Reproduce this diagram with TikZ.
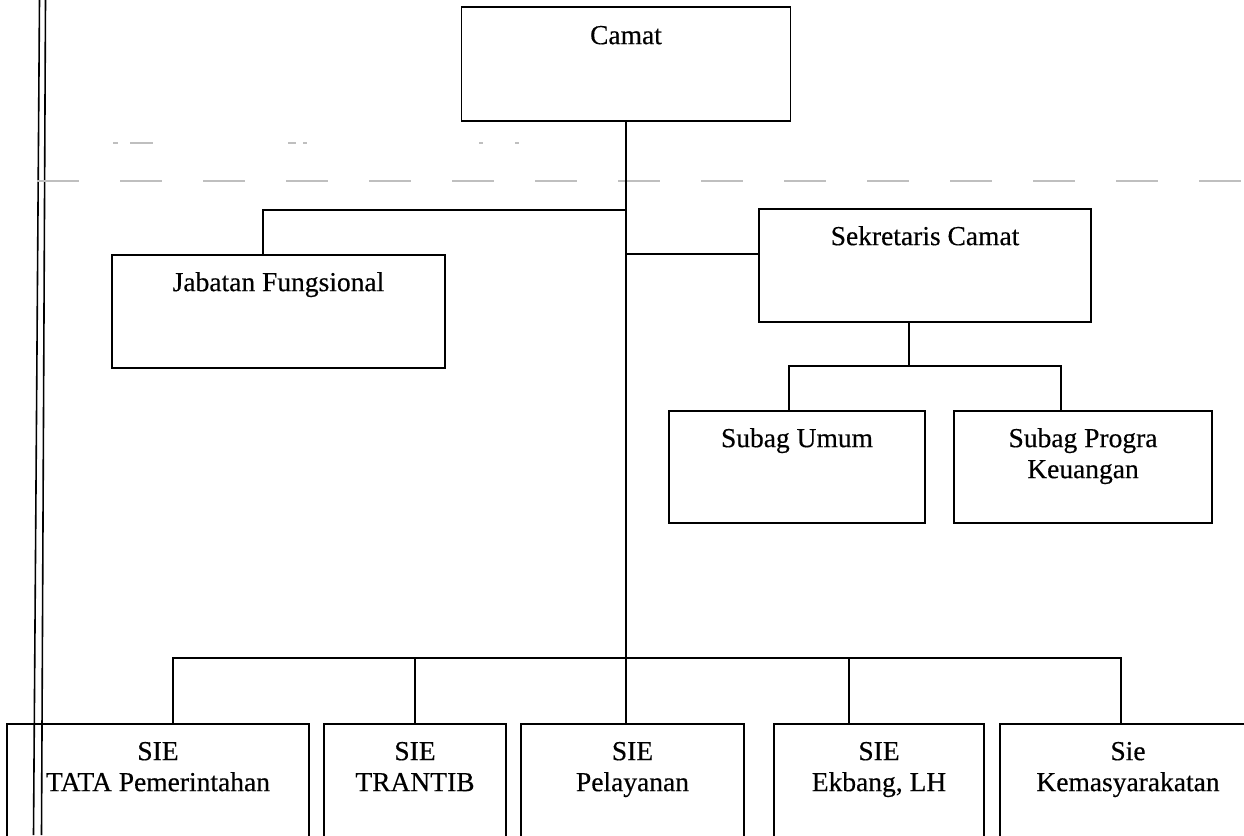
\documentclass[tikz,border=0pt]{standalone}
\usepackage{fontspec}
\setmainfont[FakeBold=0.4]{Liberation Serif}
\begin{document}
\begin{tikzpicture}[x=1pt,y=-1pt,
  box/.style={draw, line width=1.7pt, rectangle, inner sep=0pt},
  ln/.style={line width=1.7pt},
  lbl/.style={anchor=base, inner sep=0pt, font=\fontsize{27.5}{31}\selectfont},
  noise/.style={gray!50, line width=1.2pt}]
\useasboundingbox (0,0) rectangle (1244,835);
\clip (0,0) rectangle (1244,835);
% page edge double line
\draw[line width=1.6pt] (39.5,0) -- (33.5,835);
\draw[line width=1.6pt] (45.5,0) -- (41.5,835);
% scan noise
\draw[noise, dash pattern=on 42pt off 41pt] (37,181) -- (1244,181);
\draw[noise] (113,143) -- (118,143) (130,143) -- (153,143) (288,143) -- (296,143) (303,143) -- (307,143) (479,143) -- (483,143) (515,143) -- (519,143);
% boxes
\node[box, minimum width=329pt, minimum height=114pt] (camat) at (626,64) {};
\node[box, minimum width=333pt, minimum height=113pt] (jab) at (278.5,311.5) {};
\node[box, minimum width=332pt, minimum height=113pt] (sek) at (925,265.5) {};
\node[box, minimum width=256pt, minimum height=112pt] (umum) at (797,467) {};
\node[box, minimum width=258pt, minimum height=112pt] (prog) at (1083,467) {};
\node[box, minimum width=302pt, minimum height=126pt] (tata) at (158,787) {};
\node[box, minimum width=182pt, minimum height=126pt] (tran) at (415,787) {};
\node[box, minimum width=223pt, minimum height=126pt] (pel) at (632.5,787) {};
\node[box, minimum width=210pt, minimum height=126pt] (ekb) at (879,787) {};
\node[box, minimum width=256pt, minimum height=126pt] (kem) at (1128,787) {};
% labels
\node[lbl] (tcamat) at ([yshift=-38pt]camat.north) {Camat};
\node[lbl] (tjab) at ([yshift=-37pt]jab.north) {Jabatan Fungsional};
\node[lbl] (tsek) at ([yshift=-37pt]sek.north) {Sekretaris Camat};
\node[lbl] (tumum) at ([yshift=-37pt]umum.north) {Subag Umum};
\node[lbl] (tprog1) at ([yshift=-37pt]prog.north) {Subag Progra};
\node[lbl] (tprog2) at ([yshift=-68pt]prog.north) {Keuangan};
\node[lbl] (ttata1) at ([yshift=-37pt]tata.north) {SIE};
\node[lbl] (ttata2) at ([yshift=-68pt]tata.north) {TATA Pemerintahan};
\node[lbl] (ttran1) at ([yshift=-37pt]tran.north) {SIE};
\node[lbl] (ttran2) at ([yshift=-68pt]tran.north) {TRANTIB};
\node[lbl] (tpel1) at ([yshift=-37pt]pel.north) {SIE};
\node[lbl] (tpel2) at ([yshift=-68pt]pel.north) {Pelayanan};
\node[lbl] (tekb1) at ([yshift=-37pt]ekb.north) {SIE};
\node[lbl] (tekb2) at ([yshift=-68pt]ekb.north) {Ekbang, LH};
\node[lbl] (tkem1) at ([yshift=-37pt]kem.north) {Sie};
\node[lbl] (tkem2) at ([yshift=-68pt]kem.north) {Kemasyarakatan};
% connector coordinates
\coordinate (jbar) at (263,210);
\coordinate (sekin) at (759,254);
\coordinate (sbar) at (909,366);
\coordinate (uL) at (789,366);
\coordinate (uR) at (1061,366);
\coordinate (b1) at (173,658);
\coordinate (b4) at (849,658);
\coordinate (b5) at (1121,658);
% connectors
\draw[ln] (camat.south) -- (camat.south |- pel.north);
\draw[ln] (camat.south |- jbar) -- (jbar) -- (jbar |- jab.north);
\draw[ln] (camat.south |- sekin) -- (sekin -| sek.west);
\draw[ln] (sbar |- sek.south) -- (sbar);
\draw[ln] (uL |- umum.north) -- (uL) -- (uR) -- (uR |- prog.north);
\draw[ln] (b1 |- tata.north) -- (b1) -- (b5) -- (b5 |- kem.north);
\draw[ln] (tran.north |- b1) -- (tran.north);
\draw[ln] (b4) -- (b4 |- ekb.north);
\end{tikzpicture}
\end{document}
